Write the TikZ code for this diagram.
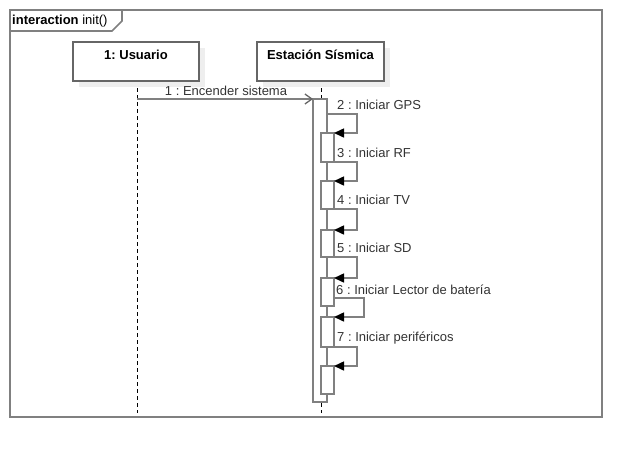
\documentclass[tikz,border=0pt]{standalone}
\usepackage{fontspec}
\setmainfont{Liberation Sans}
\frenchspacing
\usetikzlibrary{arrows.meta}
\definecolor{gcol}{HTML}{808080}
\definecolor{bcol}{HTML}{666666}
\definecolor{shc}{HTML}{EEEEEE}
\definecolor{tcol}{HTML}{333333}
\tikzset{
  frameline/.style={draw=gcol, line width=1.6pt},
  objbox/.style={draw=bcol, line width=1.4pt, fill=white, minimum width=126pt, minimum height=39pt, inner sep=0pt},
  objtitle/.style={font=\fontsize{13}{15}\selectfont\bfseries, text=black, inner sep=0pt},
  lifeline/.style={draw=black, line width=1pt, dash pattern=on 3.5pt off 3.5pt},
  actbar/.style={draw=gcol, line width=1.5pt, fill=white},
  selfmsg/.style={draw=gcol, line width=1.5pt, -{Triangle[length=10pt,width=9pt,fill=black,color=black]}},
  callmsg/.style={draw=gcol, line width=1.3pt, -{Straight Barb[length=7pt,width=10pt,color=bcol]}},
  msglabel/.style={font=\fontsize{13}{15}\selectfont, text=tcol, inner sep=0pt},
}
\begin{document}
\begin{tikzpicture}[x=1pt,y=-1pt]
\useasboundingbox (0,0) rectangle (642,458);
% frame
\draw[frameline] (10,10) rectangle (602,417);
\draw[frameline, fill=white] (10,10) -- (122,10) -- (122,21) -- (112,31) -- (10,31) -- cycle;
\node[font=\fontsize{13}{15}\selectfont, anchor=west, inner sep=0pt, text=black] (ftitle) at (12,21) {\textbf{interaction} init()};
% lifelines
\coordinate (uend) at (137,413);
\coordinate (eend) at (321,413);
\draw[lifeline] (137,81) -- (uend);
\draw[lifeline] (321,81) -- (eend);
% shadows
\fill[shc] (79,48) rectangle (205,87);
\fill[shc] (263,48) rectangle (390,87);
% objects
\node[objbox] (u) at (136,61.5) {};
\node[objtitle] (ut) at (136,55) {1: Usuario};
\node[objbox, minimum width=127pt] (e) at (320.5,61.5) {};
\node[objtitle] (et) at (320.5,55) {Estación Sísmica};
% main activation
\draw[actbar] (313,99) rectangle (327,402);
\coordinate (abarL) at (313,99);
% nested activations
\foreach \n/\a/\b in {1/133/162, 2/181/209, 3/230/257, 4/278/306, 5/317/347, 6/366/394}{
  \draw[actbar] (321,\a) rectangle (334,\b);
}
% message 1
\coordinate (m1s) at (137,99);
\draw[callmsg] (m1s) -- (abarL);
\node[msglabel] (l1) at (226,91) {1 : Encender sistema};
% self messages
\foreach \n/\s/\e/\txt in {2/114/133/{2 : Iniciar GPS}, 3/162/181/{3 : Iniciar RF}, 4/209/230/{4 : Iniciar TV}, 5/257/278/{5 : Iniciar SD}, 7/347/366/{7 : Iniciar periféricos}}{
  \coordinate (s\n) at (327,\s);
  \coordinate (t\n) at (334,\e);
  \draw[selfmsg] (s\n) -- (357,\s) -- (357,\e) -- (t\n);
  \node[msglabel, anchor=west] (l\n) at (337,\s-9) {\txt};
}
\coordinate (s6) at (334,298);
\coordinate (t6) at (334,317);
\draw[selfmsg] (s6) -- (364,298) -- (364,317) -- (t6);
\node[msglabel, anchor=west] (l6) at (336,290) {6 : Iniciar Lector de batería};
\end{tikzpicture}
\end{document}
